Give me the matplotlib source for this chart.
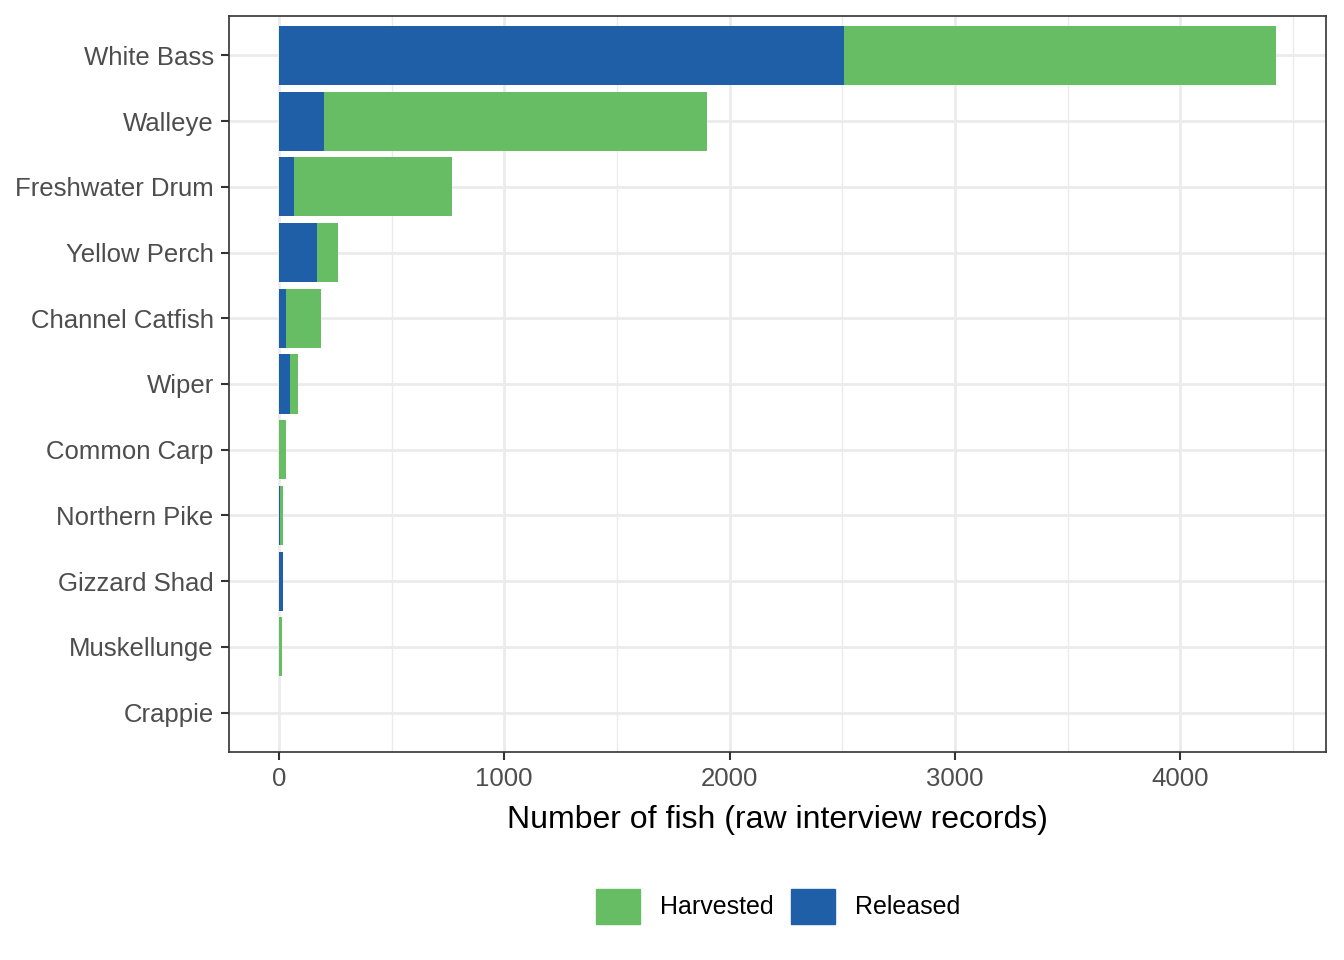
import matplotlib.pyplot as plt
from matplotlib.patches import Patch
from matplotlib.ticker import MultipleLocator

plt.rcParams['font.family'] = ['Liberation Sans', 'DejaVu Sans']

species = ["White Bass", "Walleye", "Freshwater Drum", "Yellow Perch", "Channel Catfish",
           "Wiper", "Common Carp", "Northern Pike", "Gizzard Shad", "Muskellunge", "Crappie"]
released = [2509, 199, 66, 168, 31, 49, 0, 4, 18, 0, 0]
harvested = [1916, 1699, 704, 93, 155, 35, 31, 14, 0, 13, 1]

green = "#66BD63"
blue = "#1F5FA8"

fig = plt.figure(figsize=(13.44, 9.6), dpi=100)
ax = fig.add_axes([0.1704, 0.2167, 0.8162, 0.7666])

y = list(range(len(species)))
ax.barh(y, released, height=0.9, color=blue, zorder=3)
ax.barh(y, harvested, left=released, height=0.9, color=green, zorder=3)

ax.set_ylim(len(species) - 0.4, -0.6)
ax.set_xlim(-221, 4646)
ax.set_yticks(y)
ax.set_yticklabels(species)
ax.xaxis.set_major_locator(MultipleLocator(1000))
ax.xaxis.set_minor_locator(MultipleLocator(500))
ax.grid(which='major', color='#EBEBEB', linewidth=2.0, zorder=0)
ax.grid(which='minor', axis='x', color='#EBEBEB', linewidth=1.0, zorder=0)
ax.tick_params(which='major', length=6, width=1.5, color='#333333', labelsize=18.5,
               labelcolor='#4D4D4D', pad=5)
ax.tick_params(which='minor', length=0)
for s in ax.spines.values():
    s.set_color('#333333')
    s.set_linewidth(1.2)

ax.set_xlabel("Number of fish (raw interview records)", fontsize=23, labelpad=10)

handles = [Patch(color=green, label="Harvested"), Patch(color=blue, label="Released")]
fig.legend(handles=handles, loc='center', bbox_to_anchor=(0.579, 0.056), ncol=2,
           frameon=False, fontsize=18, handlelength=1.75, handleheight=1.75,
           handletextpad=0.8, columnspacing=0.7)

fig.savefig("out.png", dpi=100)
